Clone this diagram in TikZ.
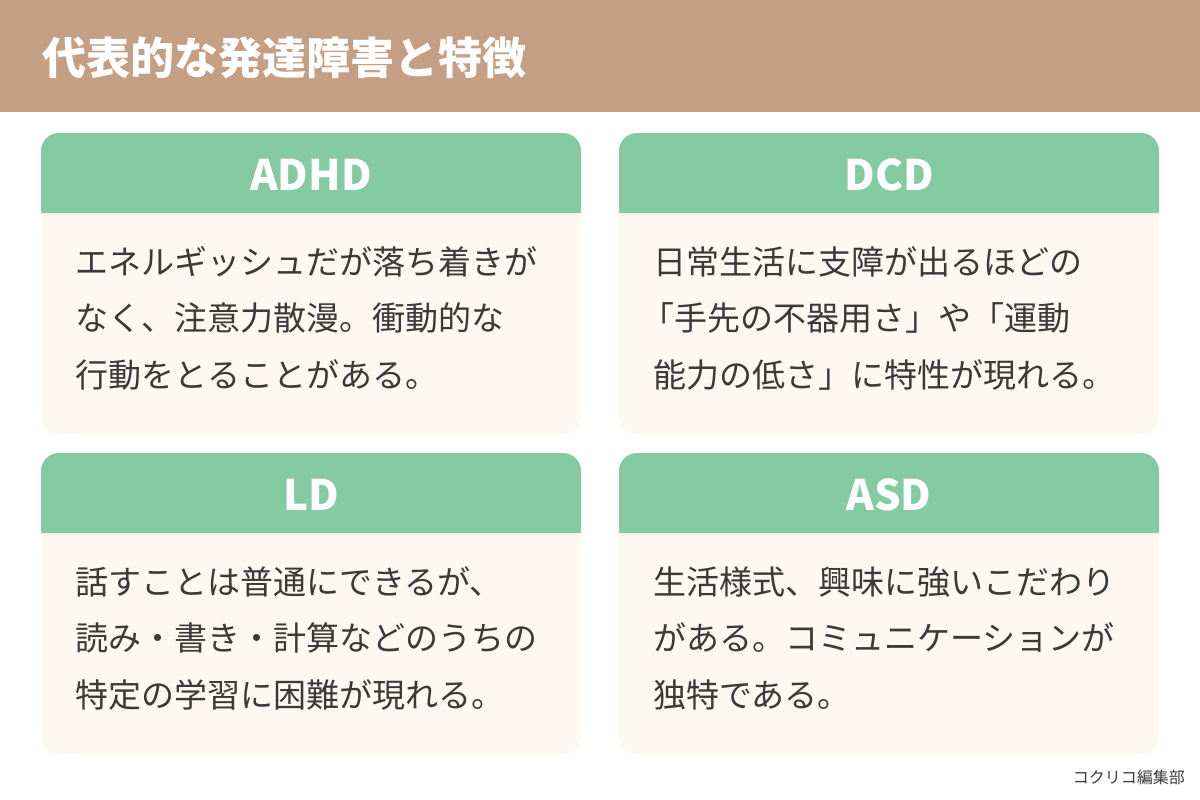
\documentclass[tikz,border=0pt]{standalone}
\usepackage{fontspec}
\setmainfont{Noto Sans CJK JP}
\newfontfamily\boldjp{Noto Sans CJK JP Bold}
\definecolor{band}{HTML}{C49F83}
\definecolor{cardg}{HTML}{85CBA1}
\definecolor{cream}{HTML}{FDF8F0}
\definecolor{ink}{HTML}{3A3A3A}
\tikzset{
 body/.style={anchor=west,inner sep=0,text=ink,font=\fontsize{33}{33}\selectfont},
 ttl/.style={text=white,font=\fontsize{42}{42}\selectfont\bfseries},
}
\begin{document}
\begin{tikzpicture}[x=1pt,y=-1pt]
\useasboundingbox (0,0) rectangle (1200,800);
\fill[white] (0,0) rectangle (1200,800);
\fill[band] (0,0) rectangle (1200,112);
\node[anchor=west,inner sep=0,text=white,font=\fontsize{44}{44}\selectfont\bfseries] (title) at (42,58) {代表的な発達障害と特徴};
\foreach \x/\y/\n in {41/133/a,619/133/b,41/453/c,619/453/d}{
 \fill[cream,rounded corners=18] (\x,\y) rectangle (\x+540,\y+301);
 \fill[cardg] (\x,\y+80) [rounded corners=18] -- (\x,\y) -- (\x+540,\y) [sharp corners] -- (\x+540,\y+80) -- cycle;
}
\node[ttl] (ta) at (311,175) {ADHD};
\node[ttl] (tb) at (889,175) {DCD};
\node[ttl] (tc) at (311,495) {LD};
\node[ttl] (td) at (889,495) {ASD};
\node[body] (a1) at (75,262) {エネルギッシュだが落ち着きが};
\node[body] (a2) at (75,318) {なく、注意力散漫。衝動的な};
\node[body] (a3) at (75,375) {行動をとることがある。};
\node[body] (b1) at (653,262) {日常生活に支障が出るほどの};
\node[body] (b2) at (641,318) {「手先の不器用さ」や「運動};
\node[body] (b3) at (653,375) {能力の低さ」に特性が現れる。};
\node[body] (c1) at (75,582) {話すことは普通にできるが、};
\node[body] (c2) at (75,638) {読み・書き・計算などのうちの};
\node[body] (c3) at (75,695) {特定の学習に困難が現れる。};
\node[body] (d1) at (653,582) {生活様式、興味に強いこだわり};
\node[body] (d2) at (653,638) {がある。コミュニケーションが};
\node[body] (d3) at (653,695) {独特である。};
\node[anchor=east,inner sep=0,text=ink,font=\fontsize{16}{16}\selectfont] (credit) at (1185,777) {コクリコ編集部};
\end{tikzpicture}
\end{document}
